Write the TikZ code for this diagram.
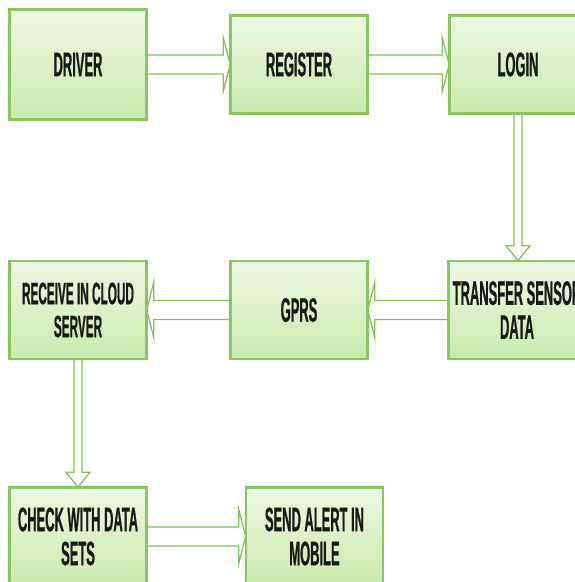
\documentclass[tikz,border=0pt]{standalone}
\usepackage{fontspec}
\newfontfamily\boxfont[FakeStretch=0.38,FakeBold=0.6]{Liberation Sans}
\usetikzlibrary{calc}
\definecolor{boxline}{RGB}{140,196,96}
\definecolor{boxtop}{RGB}{236,247,226}
\definecolor{boxbot}{RGB}{202,234,174}
\definecolor{arrline}{RGB}{132,194,88}
\tikzset{
  box/.style={draw=boxline, line width=1.6pt, top color=boxtop, bottom color=boxbot,
    minimum width=136pt, minimum height=97pt, inner sep=0pt, align=center,
    font=\boxfont\bfseries\fontsize{34}{34}\selectfont, text=black!90},
  arr/.style={draw=arrline, line width=1.3pt, fill=white, line join=miter},
}
\newcommand{\flowR}[2]{%
  \draw[arr] ($(#1.east)+(0,9.5)$) -- ($(#2.west)+(-7,9.5)$) -- ($(#2.west)+(-7,27)$)
    -- (#2.west) -- ($(#2.west)+(-7,-27)$) -- ($(#2.west)+(-7,-9.5)$) -- ($(#1.east)+(0,-9.5)$);}
\newcommand{\flowL}[2]{%
  \draw[arr] ($(#1.west)+(0,9.5)$) -- ($(#2.east)+(7,9.5)$) -- ($(#2.east)+(7,28)$)
    -- (#2.east) -- ($(#2.east)+(7,-28)$) -- ($(#2.east)+(7,-9.5)$) -- ($(#1.west)+(0,-9.5)$);}
\newcommand{\flowD}[2]{%
  \draw[arr] ($(#1.south)+(-4,0)$) -- ($(#1.south |- #2.north)+(-4,15)$) -- ($(#1.south |- #2.north)+(-12,15)$)
    -- (#1.south |- #2.north) -- ($(#1.south |- #2.north)+(12,15)$) -- ($(#1.south |- #2.north)+(4,15)$) -- ($(#1.south)+(4,0)$);}
\begin{document}
\begin{tikzpicture}[x=1pt,y=1pt]
\useasboundingbox (0,0) rectangle (575,-582);
\fill[white] (0,0) rectangle (575,-582);
\clip (0,0) rectangle (575,-582);
% nodes
\node[box, minimum height=109pt] (driver) at (78,-64.5) {DRIVER};
\node[box] (register) at (299,-64.5) {REGISTER};
\node[box] (login) at (518,-64.5) {LOGIN};
\node[box, font=\boxfont\bfseries\fontsize{31}{33}\selectfont] (receive) at (78,-310) {RECEIVE IN CLOUD\\SERVER};
\node[box] (gprs) at (299,-310) {GPRS};
\node[box] (transfer) at (517,-310) {TRANSFER SENSOR\\DATA};
\node[box] (check) at (78,-536.5) {CHECK WITH DATA\\SETS};
\node[box] (send) at (314.5,-536.5) {SEND ALERT IN\\MOBILE};
% connectors
\flowR{driver}{register}
\flowR{register}{login}
\flowD{login}{transfer}
\flowL{transfer}{gprs}
\flowL{gprs}{receive}
\flowD{receive}{check}
\flowR{check}{send}
% box borders over the connector ends
\foreach \n in {driver,register,login,receive,gprs,transfer,check,send}
  \draw[boxline, line width=1.6pt] (\n.north west) rectangle (\n.south east);
\end{tikzpicture}
\end{document}
